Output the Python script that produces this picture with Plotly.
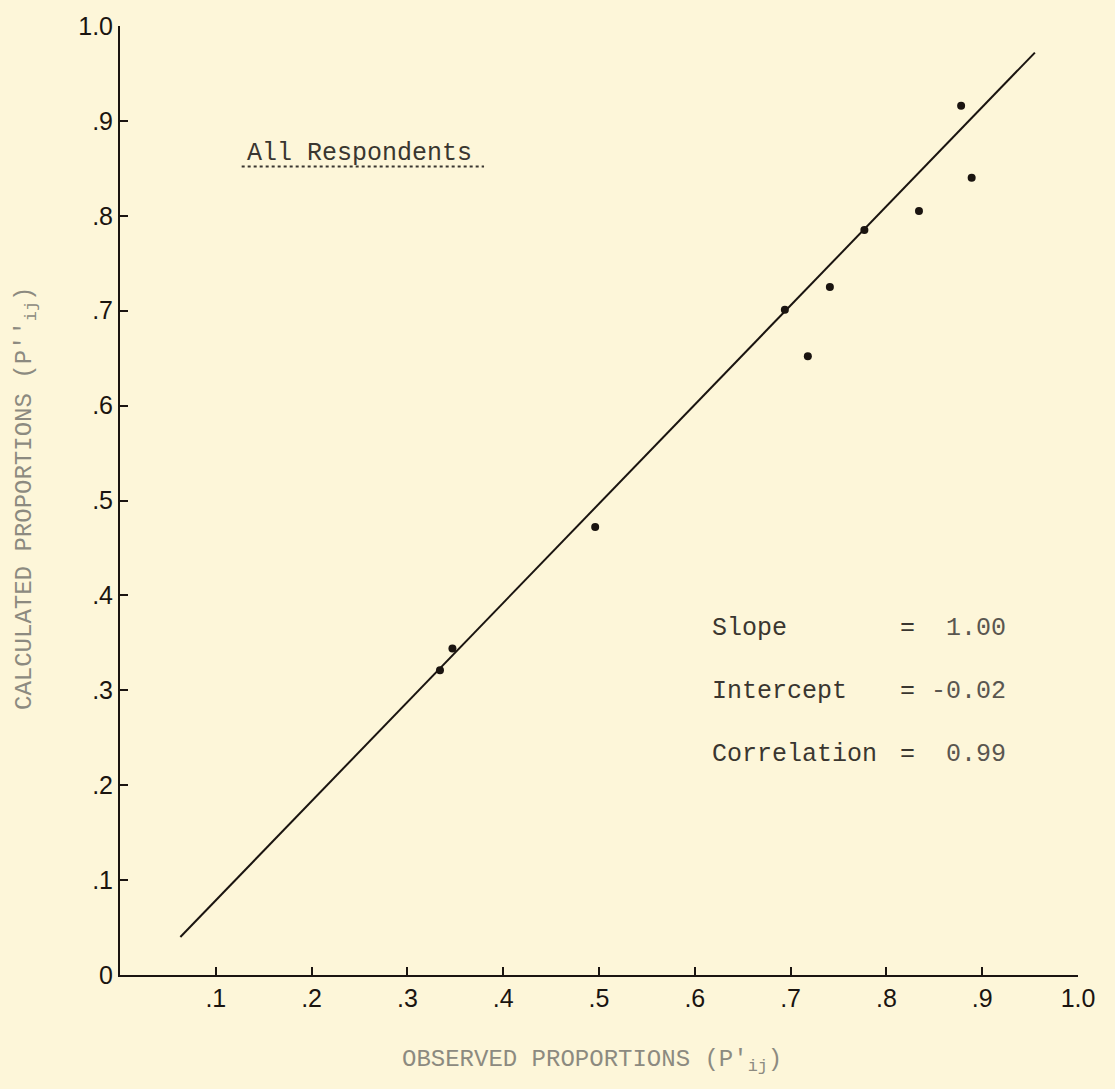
import plotly.graph_objects as go

# ---- data ----
observed = [0.334, 0.347, 0.496, 0.694, 0.718, 0.741, 0.777, 0.834, 0.878, 0.889]
calculated = [0.321, 0.344, 0.472, 0.701, 0.652, 0.725, 0.785, 0.805, 0.916, 0.840]
fit_x = [0.063, 0.955]
fit_y = [0.040, 0.972]

x_tickvals = [0.1, 0.2, 0.3, 0.4, 0.5, 0.6, 0.7, 0.8, 0.9, 1.0]
x_ticktext = [".1", ".2", ".3", ".4", ".5", ".6", ".7", ".8", ".9", "1.0"]
y_tickvals = [0.0, 0.1, 0.2, 0.3, 0.4, 0.5, 0.6, 0.7, 0.8, 0.9, 1.0]
y_ticktext = ["0", ".1", ".2", ".3", ".4", ".5", ".6", ".7", ".8", ".9", "1.0"]

stat_labels = ["Slope", "Intercept", "Correlation"]
stat_values = ["1.00", "-0.02", "0.99"]
stat_y = [0.365, 0.299, 0.232]

BG = "#FDF6D9"
MONO = "Liberation Mono, Courier New, monospace"
SANS = "Liberation Sans, Arial, sans-serif"

fig = go.Figure()
fig.add_trace(go.Scatter(x=fit_x, y=fit_y, mode="lines",
                         line=dict(color="#1a1410", width=2), showlegend=False,
                         hoverinfo="skip"))
fig.add_trace(go.Scatter(x=observed, y=calculated, mode="markers",
                         marker=dict(color="#1a1410", size=8), showlegend=False))

W, H = 1115, 1089
L, R, T, B = 120, 37, 22, 114

fig.update_layout(
    width=W, height=H,
    margin=dict(l=L, r=R, t=T, b=B),
    paper_bgcolor=BG, plot_bgcolor=BG,
    showlegend=False,
)
fig.update_xaxes(range=[0, 1], tickvals=x_tickvals, ticktext=x_ticktext,
                 showgrid=False, zeroline=False, showline=True,
                 linecolor="#1a1410", linewidth=2, ticks="inside", ticklen=8,
                 tickwidth=2, tickcolor="#1a1410",
                 tickfont=dict(family=SANS, size=25, color="#1a1410"))
fig.update_yaxes(range=[0, 1], tickvals=y_tickvals, ticktext=y_ticktext,
                 showgrid=False, zeroline=False, showline=True,
                 linecolor="#1a1410", linewidth=2, ticks="inside", ticklen=8,
                 tickwidth=2, tickcolor="#1a1410",
                 tickfont=dict(family=SANS, size=25, color="#1a1410"))

# axis titles
fig.add_annotation(xref="paper", yref="paper",
                   x=(592 - L) / (W - L - R), y=(H - B - 1078) / (H - T - B),
                   text="OBSERVED PROPORTIONS (P'<sub>ij</sub>)", showarrow=False,
                   font=dict(family=MONO, size=24, color="#8c8a80"))
fig.add_annotation(xref="paper", yref="paper",
                   x=(9 - L) / (W - L - R), y=(H - B - 497) / (H - T - B),
                   text="CALCULATED PROPORTIONS (P''<sub>ij</sub>)", showarrow=False,
                   textangle=-90,
                   font=dict(family=MONO, size=24, color="#8c8a80"))

# "All Respondents"
fig.add_annotation(xref="x", yref="y", x=0.130, y=0.866, xanchor="left",
                   text="All Respondents", showarrow=False,
                   font=dict(family=MONO, size=25, color="#3a3630"))
fig.add_shape(type="line", xref="x", yref="y", x0=0.127, x1=0.380,
              y0=(H - B - 163) / (H - T - B), y1=(H - B - 163) / (H - T - B),
              line=dict(color="#3a3630", width=2, dash="dot"))

# stats block
for lab, val, yy in zip(stat_labels, stat_values, stat_y):
    fig.add_annotation(xref="x", yref="y", x=0.616, y=yy, xanchor="left",
                       text=lab, showarrow=False,
                       font=dict(family=MONO, size=25, color="#3a3630"))
    fig.add_annotation(xref="x", yref="y", x=0.822, y=yy, xanchor="center",
                       text="=", showarrow=False,
                       font=dict(family=MONO, size=25, color="#3a3630"))
    fig.add_annotation(xref="x", yref="y", x=0.927, y=yy, xanchor="right",
                       text=val, showarrow=False,
                       font=dict(family=MONO, size=25, color="#5a5650"))

fig.write_html("out.html")
